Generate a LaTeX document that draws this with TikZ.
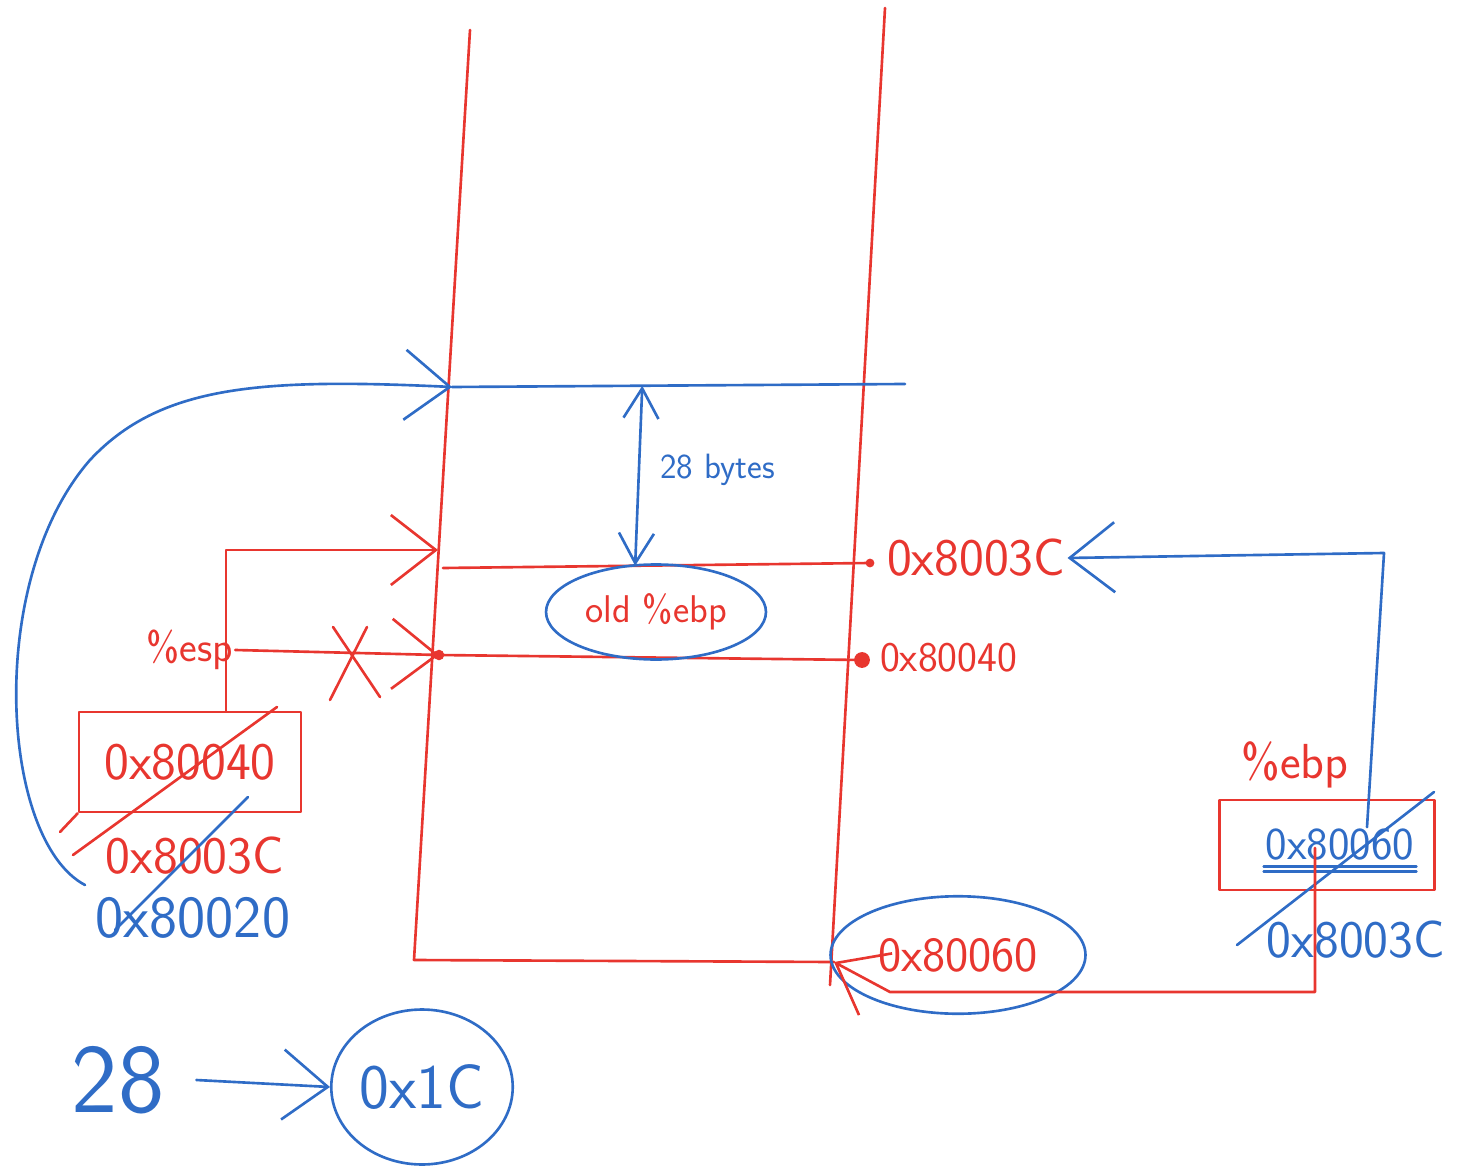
\documentclass[tikz,border=0pt]{standalone}
\usepackage{fontspec}
\usepackage{tikz}
\usetikzlibrary{arrows.meta,positioning,shapes.geometric,calc}
\definecolor{pinkred}{HTML}{E8362F}
\definecolor{inkblue}{HTML}{2F6CC6}

\begin{document}
\begin{tikzpicture}[x=0.02cm,y=-0.02cm,
  redpen/.style={draw=pinkred,line width=1.5pt,line cap=round,line join=round},
  bluepen/.style={draw=inkblue,line width=1.5pt,line cap=round,line join=round},
  barb/.style={-{Straight Barb[length=9mm,width=14mm]}},
  fs/.style={font=\sffamily\fontsize{#1}{#1}\selectfont,inner sep=1pt},
  redtext/.style={fs=#1,text=pinkred},
  bluetext/.style={fs=#1,text=inkblue},
  ring/.style={ellipse,draw=inkblue,line width=1.5pt}]
\useasboundingbox (0,0) rectangle (1469,1168);

% frame walls
\coordinate (topL) at (470,30);
\coordinate (botL) at (414,960);
\coordinate (topR) at (885,8);
\coordinate (botR) at (834,962);
\coordinate (tailR) at (830,985);
\draw[redpen] (topL) -- (botL) -- (botR);
\draw[redpen] (topR) -- (tailR);

% rows
\coordinate (rowAl) at (452,387); \coordinate (rowAr) at (905,384);
\coordinate (rowBl) at (443,568); \coordinate (rowBr) at (870,563);
\coordinate (rowCl) at (439,655); \coordinate (rowCr) at (862,660);
\draw[bluepen] (rowAl) -- (rowAr);
\draw[redpen] (rowBl) -- (rowBr);
\draw[redpen] (rowCl) -- (rowCr);
\fill[pinkred] (rowBr) circle (2.5pt);
\fill[pinkred] (rowCl) circle (3pt);
\fill[pinkred] (rowCr) circle (4.5pt);
\node[redtext=30,anchor=west] (addrB) at (885,558) {0x8003C};
\node[redtext=24,anchor=west] (addrC) at (878,658) {0x80040};

% 28 bytes gap
\coordinate (gapTop) at ($(rowAl)!0.42!(rowAr)$);
\coordinate (gapBot) at ($(rowBl)!0.45!(rowBr)$);
\draw[bluepen,{Straight Barb[length=6mm,width=7mm]}-{Straight Barb[length=6mm,width=7mm]}] (gapTop) -- (gapBot);
\node[bluetext=20,anchor=west] (gapsize) at (658,470) {28 bytes};
\node[redtext=22,ring,minimum width=4.4cm,minimum height=1.9cm] (oldebp) at (656,612) {old \%ebp};

% esp side
\node[redtext=24] (esp) at (190,650) {\%esp};
\node[redpen,redtext=30,minimum width=4.44cm,minimum height=2cm] (espbox) at (190,762) {0x80040};
\draw[redpen] (60,832) -- (espbox.south west);
\draw[redpen] (73,855) -- (277,707);
\node[redtext=30] (espmid) at (195,856) {0x8003C};
\draw[bluepen] (115,930) -- (248,797);
\node[bluetext=34] (espnew) at (193,918) {0x80020};
\coordinate (frameB) at (438,550);
\draw[redpen,barb] (espbox.north) ++(36,0) |- (frameB);
\draw[redpen,barb] (esp.east) -- (rowCl);
\coordinate (cut) at (355,662);
\draw[redpen] (cut) ++(-22,-35) -- ++(47,70);
\draw[redpen] (cut) ++(-25,38) -- ++(37,-73);
\coordinate (loopend) at (85,885);
\draw[bluepen,barb] (loopend) .. controls (0,840) and (-15,580) .. (90,460)
  .. controls (160,385) and (260,378) .. (rowAl);

% ebp side
\node[bluetext=26] (ebpval) at (1340,845) {0x80060};
\node[redpen,minimum width=4.3cm,minimum height=1.8cm] (ebpbox) at (1327,845) {};
\node[redtext=28] (ebp) at (1295,765) {\%ebp};
\draw[bluepen] ([yshift=-2pt]ebpval.south west) -- ([yshift=-2pt]ebpval.south east);
\draw[bluepen] ([yshift=-5pt]ebpval.south west) -- ([yshift=-5pt]ebpval.south east);
\draw[bluepen] (1237,945) -- (1434,792);
\node[bluetext=30] (ebpnew) at (1356,940) {0x8003C};
\coordinate (ebpturn) at (1384,553);
\draw[bluepen,barb] (ebpval.north) ++(27,0) -- (ebpturn) -- (addrB.east);

% frame end
\node[redtext=28,ring,minimum width=5.1cm,minimum height=2.35cm] (frameend) at (958,955) {0x80060};
\draw[redpen,barb] (ebpval.center) ++(-25,3) |- (890,992) -- (botR);

% 28 = 0x1C
\node[bluetext=56] (bytes) at (118,1080) {28};
\node[bluetext=36,ring,minimum width=3.4cm,minimum height=3.1cm] (hexbytes) at (422,1087) {0x1C};
\draw[bluepen,barb] ([xshift=6mm]bytes.east) -- (hexbytes.west);
\end{tikzpicture}
\end{document}
